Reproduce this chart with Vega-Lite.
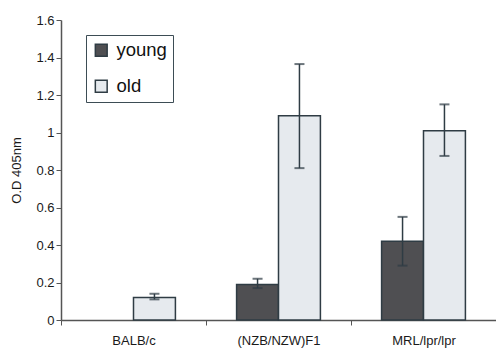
{
  "$schema": "https://vega.github.io/schema/vega-lite/v6.json",
  "width": 435,
  "height": 300,
  "autosize": {"type": "none"},
  "padding": {"left": 61, "top": 20, "right": 0, "bottom": 28},
  "background": "white",
  "config": {
    "view": {"stroke": null},
    "font": "Liberation Sans",
    "axis": {"labelColor": "#1a1a1a", "titleColor": "#1a1a1a", "domainColor": "#555", "tickColor": "#555", "grid": false},
    "axisY": {"title": "O.D 405nm", "titleFontSize": 13, "titleFontWeight": "normal", "titlePadding": 12, "labelFontSize": 13, "format": ".2~f", "values": [0, 0.2, 0.4, 0.6, 0.8, 1, 1.2, 1.4, 1.6], "labelOverlap": false, "tickSize": 5, "domainWidth": 1.5}
  },
  "data": {
    "values": [
      {"strain": "BALB/c", "group": "old", "value": 0.12, "lower": 0.11, "upper": 0.14},
      {"strain": "(NZB/NZW)F1", "group": "young", "value": 0.19, "lower": 0.17, "upper": 0.22},
      {"strain": "(NZB/NZW)F1", "group": "old", "value": 1.09, "lower": 0.81, "upper": 1.365},
      {"strain": "MRL/lpr/lpr", "group": "young", "value": 0.42, "lower": 0.29, "upper": 0.55},
      {"strain": "MRL/lpr/lpr", "group": "old", "value": 1.01, "lower": 0.875, "upper": 1.15}
    ]
  },
  "encoding": {
    "x": {
      "field": "strain", "type": "nominal",
      "sort": ["BALB/c", "(NZB/NZW)F1", "MRL/lpr/lpr"],
      "scale": {"paddingInner": 0, "paddingOuter": 0},
      "axis": {"title": null, "labelAngle": 0, "labelFontSize": 13, "labelPadding": 9, "tickBand": "extent", "tickSize": 5, "domainWidth": 1.5}
    },
    "xOffset": {
      "field": "group", "type": "nominal",
      "sort": ["young", "old"],
      "scale": {"domain": ["young", "old"], "paddingInner": 0, "paddingOuter": 0.73}
    }
  },
  "layer": [
    {
      "mark": {"type": "bar", "stroke": "#2f3c44", "strokeWidth": 1.5},
      "encoding": {
        "y": {
          "field": "value", "type": "quantitative",
          "title": "O.D 405nm",
          "scale": {"domain": [0, 1.6], "nice": false}
        },
        "fill": {
          "field": "group", "type": "nominal",
          "scale": {"domain": ["young", "old"], "range": ["#4f4f52", "#e6eaee"]},
          "legend": {
            "title": null,
            "orient": "none",
            "legendX": 25,
            "legendY": 15,
            "symbolType": "square",
            "symbolSize": 140,
            "symbolStrokeColor": "#2f3c44",
            "symbolStrokeWidth": 1.5,
            "labelFontSize": 18.5,
            "labelColor": "#111",
            "labelOffset": 6,
            "rowPadding": 17,
            "padding": 6,
            "strokeColor": "#3d4d55",
            "fillColor": "white"
          }
        }
      }
    },
    {
      "mark": {"type": "rule", "color": "#2f3c44", "strokeWidth": 1.5},
      "encoding": {
        "y": {"field": "lower", "type": "quantitative", "title": "O.D 405nm"},
        "y2": {"field": "upper"}
      }
    },
    {
      "mark": {"type": "tick", "color": "#2f3c44", "size": 10, "thickness": 2, "orient": "horizontal"},
      "encoding": {"y": {"field": "lower", "type": "quantitative", "title": "O.D 405nm"}}
    },
    {
      "mark": {"type": "tick", "color": "#2f3c44", "size": 10, "thickness": 2, "orient": "horizontal"},
      "encoding": {"y": {"field": "upper", "type": "quantitative", "title": "O.D 405nm"}}
    }
  ]
}
